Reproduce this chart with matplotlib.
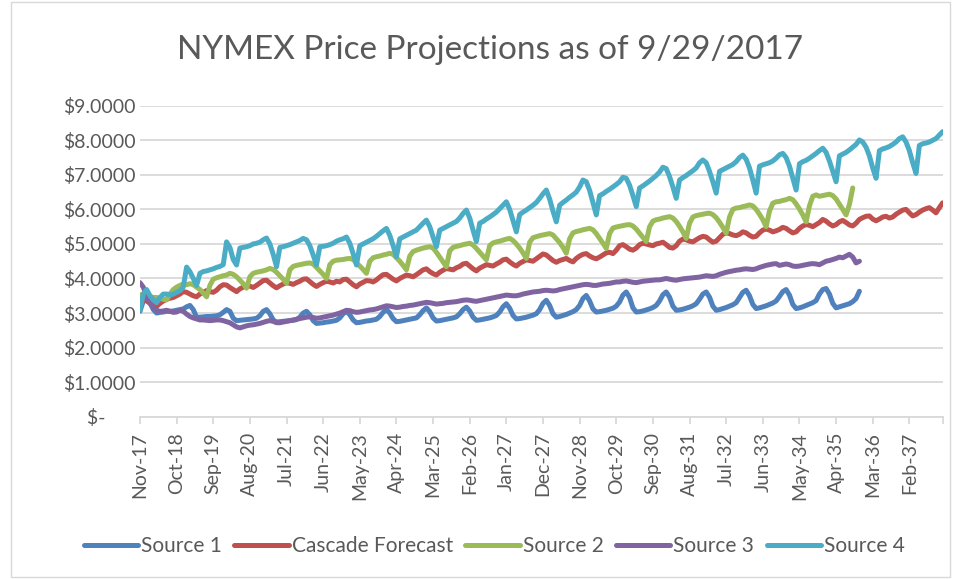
import numpy as np
import matplotlib.pyplot as plt
from matplotlib.patches import Rectangle

plt.rcParams['font.family'] = ['Lato', 'DejaVu Sans']

title = 'NYMEX Price Projections as of 9/29/2017'
names = ['Source 1', 'Cascade Forecast', 'Source 2', 'Source 3', 'Source 4']
colors = ['#4F81BD', '#C0504D', '#9BBB59', '#8064A2', '#4BACC6']
# monthly categories Nov-17 .. Dec-37, every 11th one labelled
tick_labels = ['Nov-17', 'Oct-18', 'Sep-19', 'Aug-20', 'Jul-21', 'Jun-22', 'May-23',
               'Apr-24', 'Mar-25', 'Feb-26', 'Jan-27', 'Dec-27', 'Nov-28', 'Oct-29',
               'Sep-30', 'Aug-31', 'Jul-32', 'Jun-33', 'May-34', 'Apr-35', 'Mar-36', 'Feb-37']
n_months = 242
label_step = 11

# one row per Nov..Oct year ($/MMBtu)
source1 = [
    3.05, 3.35, 3.55, 3.30, 3.10, 3.00, 3.02, 3.03, 3.05, 3.05, 3.06, 3.08,
    3.10, 3.12, 3.18, 3.22, 3.10, 2.88, 2.88, 2.89, 2.90, 2.90, 2.91, 2.92,
    2.95, 3.02, 3.10, 3.05, 2.85, 2.78, 2.79, 2.80, 2.81, 2.82, 2.83, 2.85,
    2.92, 3.05, 3.10, 2.98, 2.80, 2.74, 2.75, 2.76, 2.77, 2.78, 2.79, 2.81,
    2.88, 3.00, 3.05, 2.95, 2.78, 2.70, 2.71, 2.72, 2.74, 2.75, 2.77, 2.79,
    2.86, 2.98, 3.05, 2.95, 2.80, 2.72, 2.73, 2.75, 2.77, 2.78, 2.80, 2.82,
    2.90, 3.02, 3.10, 3.00, 2.84, 2.75, 2.76, 2.78, 2.80, 2.82, 2.84, 2.86,
    2.95, 3.07, 3.15, 3.04, 2.86, 2.77, 2.78, 2.80, 2.82, 2.84, 2.86, 2.89,
    2.98, 3.10, 3.17, 3.06, 2.88, 2.79, 2.80, 2.82, 2.84, 2.86, 2.89, 2.93,
    3.03, 3.18, 3.27, 3.14, 2.93, 2.83, 2.84, 2.86, 2.88, 2.91, 2.94, 2.98,
    3.10, 3.28, 3.37, 3.22, 2.98, 2.88, 2.90, 2.93, 2.96, 3.00, 3.04, 3.10,
    3.22, 3.42, 3.51, 3.35, 3.12, 3.03, 3.04, 3.06, 3.08, 3.11, 3.14, 3.20,
    3.32, 3.52, 3.61, 3.45, 3.15, 3.03, 3.04, 3.06, 3.09, 3.12, 3.16, 3.22,
    3.35, 3.53, 3.61, 3.46, 3.20, 3.08, 3.09, 3.11, 3.14, 3.17, 3.21, 3.27,
    3.40, 3.55, 3.61, 3.46, 3.20, 3.08, 3.10, 3.13, 3.16, 3.20, 3.24, 3.30,
    3.45, 3.60, 3.66, 3.50, 3.25, 3.13, 3.15, 3.18, 3.21, 3.25, 3.29, 3.35,
    3.48, 3.62, 3.68, 3.52, 3.25, 3.13, 3.15, 3.18, 3.22, 3.26, 3.30, 3.36,
    3.55, 3.68, 3.71, 3.55, 3.28, 3.15, 3.18, 3.21, 3.24, 3.27, 3.33, 3.42,
    3.63,
]

cascade = [
    3.42, 3.40, 3.35, 3.28, 3.22, 3.19, 3.28, 3.35, 3.40, 3.43, 3.45, 3.50,
    3.55, 3.62, 3.60, 3.55, 3.50, 3.47, 3.55, 3.60, 3.65, 3.62, 3.60, 3.66,
    3.76, 3.82, 3.81, 3.74, 3.68, 3.62, 3.70, 3.75, 3.79, 3.78, 3.74, 3.80,
    3.87, 3.94, 3.95, 3.87, 3.79, 3.73, 3.79, 3.84, 3.88, 3.86, 3.83, 3.88,
    3.92, 3.98, 3.99, 3.91, 3.83, 3.77, 3.83, 3.88, 3.92, 3.90, 3.87, 3.92,
    3.90, 3.97, 3.98, 3.90, 3.82, 3.76, 3.84, 3.89, 3.94, 3.93, 3.90, 3.96,
    4.04, 4.11, 4.12, 4.05, 3.98, 3.93, 4.00, 4.05, 4.10, 4.08, 4.05, 4.11,
    4.18, 4.25, 4.28, 4.20, 4.14, 4.10, 4.18, 4.24, 4.29, 4.27, 4.25, 4.31,
    4.35, 4.42, 4.44, 4.36, 4.28, 4.22, 4.30, 4.35, 4.40, 4.38, 4.36, 4.42,
    4.47, 4.54, 4.56, 4.48, 4.41, 4.36, 4.44, 4.49, 4.54, 4.52, 4.50, 4.57,
    4.64, 4.71, 4.68, 4.60, 4.52, 4.47, 4.52, 4.55, 4.58, 4.52, 4.48, 4.58,
    4.65, 4.70, 4.72, 4.65, 4.60, 4.57, 4.62, 4.68, 4.74, 4.76, 4.72, 4.82,
    4.95, 4.98, 4.92, 4.85, 4.82, 4.88, 4.98, 5.02, 5.00, 4.97, 4.95, 5.00,
    5.02, 5.05, 4.98, 4.90, 4.88, 4.95, 5.08, 5.14, 5.12, 5.08, 5.06, 5.12,
    5.18, 5.22, 5.20, 5.12, 5.05, 5.08, 5.18, 5.28, 5.32, 5.30, 5.26, 5.24,
    5.28, 5.35, 5.32, 5.25, 5.20, 5.22, 5.32, 5.40, 5.43, 5.40, 5.35, 5.38,
    5.42, 5.48, 5.45, 5.38, 5.32, 5.35, 5.45, 5.52, 5.56, 5.54, 5.50, 5.56,
    5.62, 5.71, 5.66, 5.58, 5.52, 5.56, 5.64, 5.68, 5.62, 5.55, 5.52, 5.60,
    5.71, 5.76, 5.80, 5.81, 5.72, 5.67, 5.72, 5.78, 5.80, 5.75, 5.78, 5.86,
    5.92, 5.98, 6.00, 5.90, 5.81, 5.85, 5.92, 5.98, 6.02, 6.05, 5.98, 5.90,
    6.05, 6.19,
]

source2 = [
    3.52, 3.55, 3.50, 3.48, 3.45, 3.45, 3.42, 3.40, 3.38, 3.55, 3.68, 3.75,
    3.80, 3.84, 3.82, 3.85, 3.82, 3.75, 3.68, 3.58, 3.47, 3.80, 3.98, 4.02,
    4.05, 4.08, 4.10, 4.15, 4.12, 4.05, 3.95, 3.85, 3.72, 4.05, 4.15, 4.18,
    4.20, 4.22, 4.25, 4.29, 4.26, 4.18, 4.08, 3.98, 3.86, 4.25, 4.35, 4.38,
    4.40, 4.42, 4.44, 4.45, 4.42, 4.32, 4.22, 4.12, 4.00, 4.40, 4.50, 4.53,
    4.54, 4.55, 4.57, 4.58, 4.55, 4.45, 4.36, 4.26, 4.15, 4.50, 4.60, 4.63,
    4.65, 4.68, 4.70, 4.73, 4.70, 4.60, 4.50, 4.38, 4.25, 4.65, 4.78, 4.82,
    4.85, 4.88, 4.90, 4.92, 4.88, 4.76, 4.62, 4.48, 4.34, 4.80, 4.90, 4.93,
    4.95, 4.98, 5.00, 5.02, 4.97, 4.87, 4.76, 4.65, 4.54, 4.95, 5.03, 5.06,
    5.08, 5.11, 5.14, 5.16, 5.10, 5.00, 4.88, 4.74, 4.58, 5.05, 5.18, 5.21,
    5.24, 5.26, 5.28, 5.30, 5.26, 5.15, 5.04, 4.90, 4.73, 5.15, 5.32, 5.36,
    5.38, 5.41, 5.43, 5.45, 5.41, 5.30, 5.16, 5.02, 4.87, 5.30, 5.46, 5.49,
    5.51, 5.53, 5.55, 5.56, 5.52, 5.43, 5.31, 5.19, 5.07, 5.50, 5.66, 5.70,
    5.72, 5.75, 5.77, 5.79, 5.75, 5.65, 5.51, 5.35, 5.16, 5.60, 5.78, 5.82,
    5.84, 5.86, 5.88, 5.89, 5.85, 5.76, 5.63, 5.48, 5.31, 5.78, 6.00, 6.04,
    6.05, 6.08, 6.10, 6.13, 6.10, 6.00, 5.86, 5.70, 5.50, 5.95, 6.18, 6.22,
    6.23, 6.26, 6.28, 6.32, 6.28, 6.16, 6.01, 5.84, 5.64, 6.10, 6.38, 6.42,
    6.38, 6.40, 6.42, 6.44, 6.40, 6.30, 6.15, 6.00, 5.84, 6.14, 6.62,
]

source3 = [
    3.88, 3.75, 3.50, 3.30, 3.15, 3.08, 3.05, 3.06, 3.08, 3.05, 3.02, 3.03,
    3.08, 3.05, 2.97, 2.90, 2.86, 2.83, 2.80, 2.80, 2.79, 2.78, 2.79, 2.80,
    2.80, 2.78, 2.75, 2.72, 2.66, 2.60, 2.57, 2.60, 2.63, 2.65, 2.66, 2.68,
    2.70, 2.73, 2.76, 2.78, 2.76, 2.72, 2.72, 2.74, 2.76, 2.78, 2.80, 2.82,
    2.84, 2.86, 2.88, 2.89, 2.87, 2.85, 2.86, 2.88, 2.90, 2.92, 2.94, 2.97,
    3.00, 3.04, 3.08, 3.07, 3.04, 3.02, 3.03, 3.05, 3.07, 3.09, 3.10, 3.12,
    3.15, 3.18, 3.21, 3.20, 3.18, 3.16, 3.17, 3.19, 3.20, 3.22, 3.23, 3.25,
    3.27, 3.29, 3.31, 3.30, 3.28, 3.26, 3.27, 3.28, 3.30, 3.31, 3.32, 3.33,
    3.35, 3.37, 3.38, 3.37, 3.35, 3.34, 3.36, 3.38, 3.40, 3.42, 3.44, 3.46,
    3.48, 3.50, 3.52, 3.51, 3.50, 3.50, 3.52, 3.55, 3.57, 3.59, 3.61, 3.62,
    3.63, 3.65, 3.66, 3.65, 3.64, 3.65, 3.68, 3.70, 3.72, 3.74, 3.76, 3.78,
    3.80, 3.82, 3.83, 3.82, 3.80, 3.80, 3.82, 3.84, 3.85, 3.86, 3.88, 3.90,
    3.90, 3.92, 3.93, 3.91, 3.89, 3.88, 3.90, 3.92, 3.93, 3.94, 3.95, 3.96,
    3.96, 3.98, 4.00, 3.98, 3.96, 3.95, 3.97, 3.99, 4.00, 4.01, 4.02, 4.03,
    4.04, 4.06, 4.08, 4.07, 4.06, 4.08, 4.12, 4.15, 4.18, 4.20, 4.22, 4.24,
    4.25, 4.27, 4.28, 4.27, 4.26, 4.28, 4.32, 4.35, 4.38, 4.40, 4.42, 4.43,
    4.38, 4.40, 4.42, 4.40, 4.36, 4.35, 4.36, 4.38, 4.40, 4.42, 4.43, 4.42,
    4.40, 4.45, 4.50, 4.52, 4.55, 4.58, 4.62, 4.60, 4.65, 4.70, 4.62, 4.45,
    4.50,
]

source4 = [
    3.08, 3.55, 3.68, 3.50, 3.38, 3.30, 3.45, 3.55, 3.55, 3.52, 3.55, 3.60,
    3.65, 3.75, 4.33, 4.20, 4.00, 3.80, 4.15, 4.20, 4.22, 4.25, 4.28, 4.32,
    4.35, 4.40, 5.06, 4.90, 4.55, 4.39, 4.88, 4.90, 4.92, 4.95, 5.00, 5.02,
    5.05, 5.12, 5.17, 5.00, 4.70, 4.34, 4.90, 4.92, 4.95, 4.98, 5.02, 5.06,
    5.10, 5.16, 5.12, 4.95, 4.68, 4.39, 4.92, 4.93, 4.95, 4.98, 5.02, 5.08,
    5.12, 5.15, 5.20, 5.02, 4.72, 4.39, 4.95, 5.00, 5.05, 5.10, 5.15, 5.22,
    5.30, 5.38, 5.45, 5.25, 4.95, 4.63, 5.15, 5.20, 5.25, 5.30, 5.35, 5.40,
    5.50, 5.60, 5.69, 5.50, 5.20, 4.92, 5.40, 5.45, 5.50, 5.55, 5.60, 5.65,
    5.75, 5.88, 5.98, 5.75, 5.40, 5.07, 5.60, 5.65, 5.72, 5.78, 5.85, 5.92,
    6.02, 6.12, 6.22, 6.00, 5.68, 5.35, 5.85, 5.92, 5.98, 6.05, 6.12, 6.20,
    6.32, 6.45, 6.56, 6.30, 5.95, 5.64, 6.12, 6.20, 6.27, 6.35, 6.42, 6.50,
    6.65, 6.85, 6.80, 6.55, 6.20, 5.84, 6.40, 6.45, 6.52, 6.58, 6.65, 6.72,
    6.80, 6.93, 6.90, 6.70, 6.40, 6.08, 6.62, 6.68, 6.75, 6.82, 6.90, 6.98,
    7.08, 7.22, 7.18, 6.95, 6.65, 6.32, 6.85, 6.92, 6.98, 7.05, 7.12, 7.20,
    7.35, 7.43, 7.35, 7.10, 6.80, 6.47, 7.10, 7.15, 7.20, 7.25, 7.30, 7.38,
    7.50, 7.57, 7.45, 7.20, 6.85, 6.47, 7.25, 7.29, 7.32, 7.35, 7.40, 7.48,
    7.58, 7.62, 7.50, 7.25, 6.90, 6.56, 7.32, 7.38, 7.42, 7.48, 7.55, 7.62,
    7.70, 7.77, 7.65, 7.40, 7.10, 6.80, 7.55, 7.60, 7.65, 7.72, 7.80, 7.88,
    8.01, 7.95, 7.80, 7.55, 7.20, 6.90, 7.70, 7.75, 7.78, 7.82, 7.88, 7.95,
    8.05, 8.10, 7.95, 7.70, 7.35, 7.04, 7.85, 7.90, 7.92, 7.95, 8.00, 8.05,
    8.15, 8.25,
]

grey = '#595959'
grid = '#D9D9D9'

fig = plt.figure(figsize=(9.58, 5.79), dpi=100)
ax = fig.add_axes([0.1461, 0.2803, 0.8379, 0.5371])

for vals, name, c in zip([source1, cascade, source2, source3, source4], names, colors):
    ax.plot(np.arange(len(vals)), vals, color=c, lw=3.6, label=name,
            solid_capstyle='round', solid_joinstyle='round')

ax.set_xlim(0, n_months - 1)
ax.set_ylim(0, 9)
ax.set_yticks(range(10))
ax.set_yticklabels(['$-      '] + ['${:.4f}'.format(v) for v in range(1, 10)])
ax.set_xticks(np.arange(0, n_months - 1, label_step))
ax.set_xticklabels(tick_labels, rotation=90)
ax.set_xticks([n_months - 1], minor=True)

ax.grid(axis='y', color=grid, lw=1.3)
ax.set_axisbelow(True)
for s in ['top', 'right', 'left']:
    ax.spines[s].set_visible(False)
ax.spines['bottom'].set_color(grid)
ax.spines['bottom'].set_linewidth(1.3)
ax.tick_params(axis='y', length=0, pad=3, labelsize=14, labelcolor=grey)
ax.tick_params(axis='x', which='both', length=5, width=1.3, color=grid, pad=6,
               labelsize=14, labelcolor=grey)

fig.text(0.512, 0.913, title, ha='center', va='center', fontsize=24,
         color=grey)

fig.legend(loc='center', bbox_to_anchor=(0.516, 0.057), ncol=5, frameon=False,
           fontsize=15, handlelength=2.6, handletextpad=0.15, columnspacing=0.6,
           labelcolor=grey)

fig.patches.append(Rectangle((11 / 958, 2 / 579), 939 / 958, 575 / 579,
                             transform=fig.transFigure, fill=False,
                             edgecolor=grid, lw=1))

fig.savefig('out.png', dpi=100)
